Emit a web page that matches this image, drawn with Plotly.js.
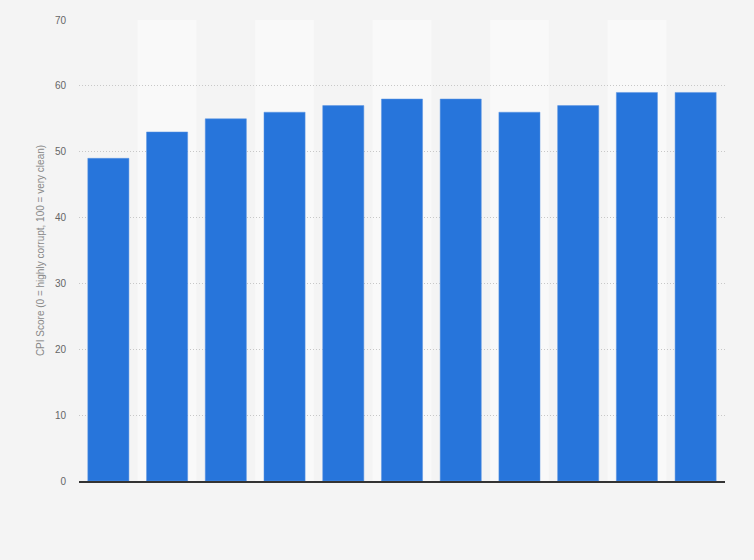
<!DOCTYPE html>
<html>
<head>
<meta charset="utf-8">
<script src="https://cdn.plot.ly/plotly-3.0.1.min.js"></script>
<style>
  html, body {margin: 0; padding: 0; background: #f4f4f4;}
  #chart {width: 754px; height: 560px;}
</style>
</head>
<body>
<div id="chart"></div>
<script>
// CPI score per year (x labels are not shown in the reference)
const years = ['2012', '2013', '2014', '2015', '2016', '2017', '2018', '2019', '2020', '2021', '2022'];
const scores = [49, 53, 55, 56, 57, 58, 58, 56, 57, 59, 59];
const yTicks = [0, 10, 20, 30, 40, 50, 60, 70];

// lighter background band behind every second column
let bands = [];
for (let i = 1; i < years.length; i += 2) {
  bands.push({
    type: 'rect',
    xref: 'x',
    yref: 'y',
    x0: i - 0.5,
    x1: i + 0.5,
    y0: 0,
    y1: 70,
    fillcolor: '#f9f9f9',
    line: {width: 0},
    layer: 'below'
  });
}

const trace = {
  type: 'bar',
  x: years,
  y: scores,
  marker: {color: '#2775db', line: {color: '#5a95e3', width: 0.5}},
  width: 0.7,
  hoverinfo: 'x+y'
};

const layout = {
  width: 754,
  height: 560,
  margin: {l: 79, r: 29, t: 20, b: 79},
  paper_bgcolor: '#f4f4f4',
  plot_bgcolor: '#f4f4f4',
  font: {family: '"Liberation Sans", Arial, sans-serif', size: 10, color: '#666'},
  showlegend: false,
  shapes: bands,
  xaxis: {
    type: 'category',
    showticklabels: false,
    showgrid: false,
    showline: true,
    linecolor: '#333',
    linewidth: 1.5,
    ticks: '',
    zeroline: false
  },
  yaxis: {
    range: [0, 70],
    tickvals: yTicks,
    showgrid: true,
    gridcolor: '#c8c8c8',
    griddash: '1px,2px',
    gridwidth: 1,
    zeroline: false,
    ticks: '',
    ticklabelstandoff: 12,
    tickfont: {size: 10, color: '#666'},
    title: {
      text: 'CPI Score (0 = highly corrupt, 100 = very clean)',
      font: {size: 10, color: '#888'},
      standoff: 8
    }
  }
};

Plotly.newPlot('chart', [trace], layout, {displayModeBar: false, staticPlot: true});
</script>
</body>
</html>
